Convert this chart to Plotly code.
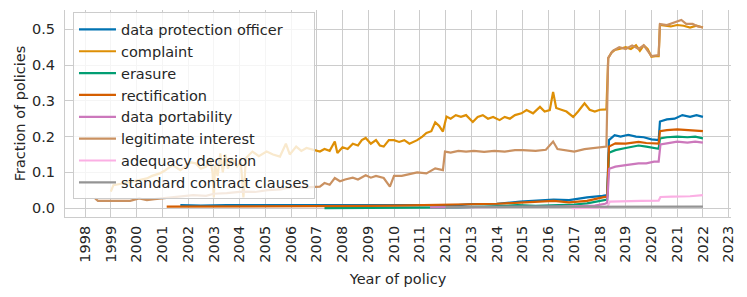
import plotly.graph_objects as go

# ---- data ----
dpo_x = [2001.7, 2002.5, 2003.5, 2004.5, 2005.5, 2006.5, 2007.5, 2008.5, 2009.5, 2010.5, 2011.5, 2012.5,
         2013.0, 2014.0, 2014.9, 2015.5, 2016.2, 2016.8, 2017.5, 2018.1, 2018.28, 2018.35, 2018.57, 2018.8,
         2019.1, 2019.4, 2019.7, 2020.0, 2020.28, 2020.33, 2020.6, 2020.9, 2021.2, 2021.5, 2021.75, 2022.0]
dpo_y = [0.008, 0.007, 0.008, 0.008, 0.009, 0.008, 0.009, 0.009, 0.008, 0.008, 0.007, 0.008,
         0.011, 0.012, 0.018, 0.020, 0.024, 0.022, 0.030, 0.034, 0.036, 0.190, 0.204, 0.200,
         0.205, 0.200, 0.198, 0.192, 0.190, 0.242, 0.248, 0.250, 0.260, 0.255, 0.260, 0.255]

complaint_x = [1999.0, 1999.1, 1999.4, 1999.7, 1999.9, 2000.1, 2000.4, 2000.6, 2000.9, 2001.1, 2001.4, 2001.7,
               2001.9, 2002.1, 2002.3, 2002.5, 2002.7, 2002.85, 2002.95, 2003.0, 2003.05, 2003.15, 2003.25,
               2003.35, 2003.45, 2003.55, 2003.7, 2003.9, 2004.05, 2004.15, 2004.25, 2004.5, 2004.75, 2005.05,
               2005.3, 2005.57, 2005.8, 2005.95, 2006.2, 2006.4, 2006.6, 2006.86, 2007.12, 2007.3, 2007.5,
               2007.7, 2007.8, 2008.0, 2008.2, 2008.4, 2008.6, 2008.75, 2008.9, 2009.1, 2009.3, 2009.45,
               2009.6, 2009.8, 2010.0, 2010.2, 2010.4, 2010.6, 2010.9, 2011.1, 2011.26, 2011.45, 2011.6,
               2011.75, 2011.9, 2012.04, 2012.2, 2012.4, 2012.6, 2012.8, 2013.06, 2013.25, 2013.45, 2013.65,
               2013.85, 2014.1, 2014.3, 2014.5, 2014.7, 2014.95, 2015.15, 2015.4, 2015.67, 2015.85, 2016.05,
               2016.18, 2016.3, 2016.5, 2016.7, 2016.96, 2017.15, 2017.4, 2017.6, 2017.8, 2018.0, 2018.25,
               2018.32, 2018.45, 2018.57, 2018.75, 2019.0, 2019.2, 2019.4, 2019.55, 2019.7, 2019.85, 2020.0,
               2020.15, 2020.28, 2020.33, 2020.5, 2020.75, 2021.0, 2021.25, 2021.5, 2021.75, 2022.0]
complaint_y = [0.046, 0.064, 0.068, 0.072, 0.074, 0.078, 0.083, 0.090, 0.097, 0.105, 0.120, 0.106,
               0.115, 0.128, 0.125, 0.110, 0.116, 0.140, 0.100, 0.030, 0.120, 0.090, 0.153,
               0.100, 0.150, 0.110, 0.140, 0.116, 0.130, 0.030, 0.140, 0.158, 0.145, 0.158,
               0.150, 0.144, 0.180, 0.150, 0.172, 0.160, 0.168, 0.162, 0.158, 0.165, 0.160,
               0.186, 0.154, 0.170, 0.165, 0.180, 0.175, 0.190, 0.196, 0.180, 0.190, 0.175,
               0.172, 0.190, 0.190, 0.185, 0.190, 0.180, 0.190, 0.200, 0.210, 0.215, 0.240,
               0.230, 0.214, 0.256, 0.250, 0.260, 0.255, 0.260, 0.241, 0.255, 0.260, 0.250,
               0.255, 0.246, 0.255, 0.250, 0.260, 0.265, 0.274, 0.265, 0.283, 0.270, 0.274,
               0.325, 0.280, 0.275, 0.270, 0.255, 0.270, 0.293, 0.275, 0.270, 0.275, 0.276,
               0.419, 0.435, 0.442, 0.445, 0.450, 0.445, 0.455, 0.440, 0.455, 0.445, 0.423,
               0.425, 0.425, 0.512, 0.510, 0.508, 0.512, 0.510, 0.505, 0.510, 0.505]

erasure_x = [2007.3, 2008.5, 2009.5, 2010.5, 2011.4, 2012.5, 2013.5, 2014.8, 2015.5, 2016.2, 2017.0, 2017.5,
             2018.2, 2018.28, 2018.35, 2018.6, 2019.0, 2019.5, 2019.8, 2020.2, 2020.28, 2020.33, 2020.6,
             2021.0, 2021.4, 2021.7, 2022.0]
erasure_y = [0.000, 0.000, 0.000, 0.000, 0.001, 0.002, 0.004, 0.008, 0.006, 0.007, 0.010, 0.013,
             0.022, 0.024, 0.155, 0.162, 0.168, 0.175, 0.172, 0.167, 0.166, 0.195, 0.198,
             0.200, 0.198, 0.200, 0.195]

rect_x = [2001.17, 2002.0, 2003.0, 2004.0, 2005.0, 2006.0, 2007.0, 2008.0, 2009.0, 2010.0, 2011.0, 2012.0,
          2013.0, 2014.0, 2014.9, 2015.5, 2016.2, 2016.8, 2017.5, 2018.1, 2018.28, 2018.35, 2018.6, 2019.0,
          2019.5, 2019.8, 2020.2, 2020.28, 2020.33, 2020.6, 2021.0, 2021.4, 2021.7, 2022.0]
rect_y = [0.004, 0.004, 0.005, 0.004, 0.005, 0.005, 0.006, 0.006, 0.006, 0.007, 0.008, 0.008,
          0.010, 0.012, 0.015, 0.017, 0.020, 0.016, 0.020, 0.030, 0.032, 0.172, 0.181, 0.180,
          0.185, 0.182, 0.180, 0.180, 0.215, 0.218, 0.220, 0.218, 0.218, 0.215]

port_x = [2011.4, 2013.0, 2014.5, 2016.0, 2017.0, 2017.8, 2018.2, 2018.28, 2018.36, 2018.6, 2019.0, 2019.5,
          2019.8, 2020.1, 2020.28, 2020.35, 2020.6, 2021.0, 2021.4, 2021.7, 2022.0]
port_y = [0.002, 0.002, 0.003, 0.004, 0.005, 0.007, 0.012, 0.015, 0.110, 0.116, 0.120, 0.125,
          0.125, 0.130, 0.130, 0.178, 0.181, 0.186, 0.183, 0.186, 0.183]

legit_x = [1998.39, 1998.5, 1999.0, 1999.5, 1999.75, 2000.1, 2000.4, 2000.7, 2001.0, 2001.5, 2002.2, 2002.7,
           2003.0, 2003.5, 2004.1, 2004.6, 2005.1, 2005.6, 2006.1, 2006.6, 2007.12, 2007.3, 2007.5, 2007.7,
           2007.9, 2008.1, 2008.4, 2008.6, 2008.9, 2009.1, 2009.3, 2009.6, 2009.84, 2010.0, 2010.3, 2010.6,
           2010.9, 2011.26, 2011.6, 2011.9, 2011.98, 2012.2, 2012.5, 2012.8, 2013.1, 2013.5, 2013.9, 2014.3,
           2014.7, 2015.0, 2015.5, 2015.9, 2016.18, 2016.35, 2016.7, 2017.0, 2017.4, 2017.8, 2018.25, 2018.32,
           2018.5, 2018.75, 2019.0, 2019.25, 2019.5, 2019.7, 2019.85, 2020.0, 2020.28, 2020.33, 2020.6,
           2020.9, 2021.16, 2021.35, 2021.6, 2021.8, 2022.0]
legit_y = [0.027, 0.020, 0.020, 0.021, 0.020, 0.027, 0.022, 0.025, 0.027, 0.032, 0.036, 0.034,
           0.040, 0.042, 0.046, 0.045, 0.050, 0.052, 0.060, 0.058, 0.060, 0.070, 0.065, 0.084,
           0.075, 0.080, 0.085, 0.080, 0.092, 0.085, 0.090, 0.084, 0.060, 0.090, 0.090, 0.095,
           0.100, 0.097, 0.111, 0.106, 0.158, 0.155, 0.160, 0.158, 0.160, 0.157, 0.160, 0.158,
           0.162, 0.162, 0.160, 0.163, 0.186, 0.165, 0.162, 0.158, 0.165, 0.168, 0.172, 0.420,
           0.440, 0.450, 0.445, 0.455, 0.445, 0.455, 0.440, 0.425, 0.428, 0.515, 0.512,
           0.520, 0.526, 0.515, 0.515, 0.508, 0.505]

adeq_x = [2016.9, 2018.28, 2018.38, 2019.0, 2019.6, 2020.28, 2020.35, 2020.8, 2021.5, 2022.0]
adeq_y = [0.000, 0.002, 0.018, 0.020, 0.020, 0.021, 0.031, 0.032, 0.033, 0.036]

scc_x = [2012.0, 2014.0, 2016.0, 2018.0, 2020.0, 2022.0]
scc_y = [0.003, 0.003, 0.003, 0.003, 0.004, 0.004]

series_names = ["data protection officer", "complaint", "erasure", "rectification",
                "data portability", "legitimate interest", "adequacy decision",
                "standard contract clauses"]
series_x = [dpo_x, complaint_x, erasure_x, rect_x, port_x, legit_x, adeq_x, scc_x]
series_y = [dpo_y, complaint_y, erasure_y, rect_y, port_y, legit_y, adeq_y, scc_y]
colors = ["#0173b2", "#de8f05", "#029e73", "#d55e00", "#cc78bc", "#ca9161", "#fbafe4", "#949494"]

year_ticks = list(range(1998, 2024))
y_ticks = [0.0, 0.1, 0.2, 0.3, 0.4, 0.5]

FONT = "DejaVu Sans"
TXT = "#262626"
GRID = "#cccccc"

fig = go.Figure()
for name, xs, ys, c in zip(series_names, series_x, series_y, colors):
    fig.add_trace(go.Scatter(x=xs, y=ys, mode="lines", name=name,
                             line=dict(color=c, width=2.2)))

# the page body adds an 8px offset, so the figure is sized to fit the remaining window
fig.update_layout(
    width=739, height=289,
    margin=dict(l=57, r=16, t=2, b=80, autoexpand=False),
    paper_bgcolor="white", plot_bgcolor="white",
    font=dict(family=FONT, size=14.5, color=TXT),
    showlegend=True,
    legend=dict(x=0.012, y=0.988, xanchor="left", yanchor="top",
                bgcolor="rgba(255,255,255,0.8)", bordercolor=GRID, borderwidth=1,
                font=dict(family=FONT, size=14.5, color=TXT),
                tracegroupgap=0, itemwidth=37),
    xaxis=dict(range=[1997.22, 2023.09], tickmode="array", tickvals=year_ticks,
               ticktext=[str(v) for v in year_ticks], tickangle=-90,
               showgrid=True, gridcolor=GRID, gridwidth=1, zeroline=False,
               showline=True, linecolor=GRID, linewidth=1, ticks="",
               ticklabelstandoff=2, automargin=False,
               title=dict(text="Year of policy", font=dict(size=14.5, color=TXT), standoff=12)),
    yaxis=dict(range=[-0.025, 0.554], tickmode="array", tickvals=y_ticks,
               ticktext=["%.1f" % v for v in y_ticks],
               showgrid=True, gridcolor=GRID, gridwidth=1, zeroline=False,
               showline=True, linecolor=GRID, linewidth=1, ticks="",
               ticklabelstandoff=6, automargin=False,
               title=dict(text="Fraction of policies", font=dict(size=14.5, color=TXT), standoff=2)),
)

fig.write_html("out.html")
